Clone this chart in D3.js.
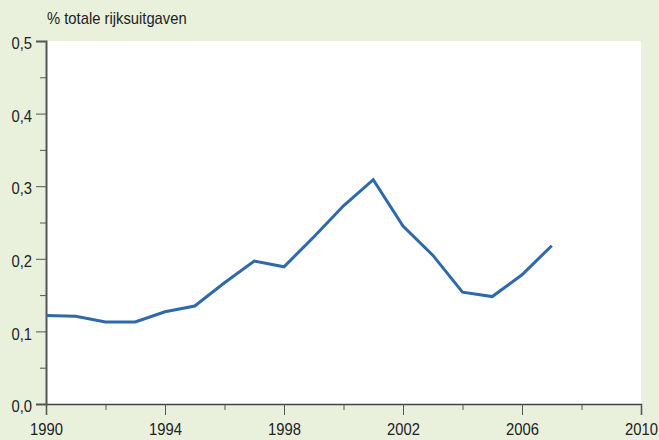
<!DOCTYPE html>
<html>
<head>
<meta charset="utf-8">
<script src="https://cdn.jsdelivr.net/npm/d3@7"></script>
<style>
  body { margin: 0; background: #e9f1dd; }
  svg { display: block; }
</style>
</head>
<body>
<div id="chart"></div>
<script>
var years = [1990, 1991, 1992, 1993, 1994, 1995, 1996, 1997, 1998, 1999,
             2000, 2001, 2002, 2003, 2004, 2005, 2006, 2007];
var shares = [0.122, 0.121, 0.113, 0.113, 0.127, 0.135, 0.167, 0.197, 0.189, 0.230,
              0.273, 0.309, 0.245, 0.205, 0.154, 0.148, 0.178, 0.218];
var yTicks = [0, 0.1, 0.2, 0.3, 0.4, 0.5];
var xTicks = [1990, 1994, 1998, 2002, 2006, 2010];
var yTitle = "% totale rijksuitgaven";

var fontFamily = "'Liberation Sans', Arial, sans-serif";
var squeeze = 0.87; // the reference uses a narrow face

var svgWidth = 659;
var svgHeight = 440;
var margin = { top: 41, right: 18, bottom: 36, left: 46 };
var width = svgWidth - margin.left - margin.right;
var height = svgHeight - margin.top - margin.bottom;

var svg = d3.select("#chart")
  .append("svg")
  .attr("width", svgWidth)
  .attr("height", svgHeight);

svg.append("rect")
  .attr("width", svgWidth)
  .attr("height", svgHeight)
  .attr("fill", "#e9f1dd");

var chartGroup = svg.append("g")
  .attr("transform", `translate(${margin.left}, ${margin.top})`);

chartGroup.append("rect")
  .attr("width", width)
  .attr("height", height)
  .attr("fill", "white");

var x = d3.scaleLinear().domain([1990, 2010]).range([0, width]);
var y = d3.scaleLinear().domain([0, 0.5]).range([height, 0]);

function narrow(sel) {
  sel.each(function() {
    var t = d3.select(this);
    var tx = +t.attr("x") || 0;
    t.attr("x", tx / squeeze)
      .attr("transform", `scale(${squeeze},1)`);
  });
}

// minor ticks
chartGroup.append("g")
  .attr("transform", `translate(0, ${height})`)
  .call(d3.axisBottom(x).tickValues(d3.range(1992, 2010, 4)).tickSize(6).tickFormat(""))
  .call(g => g.select(".domain").remove())
  .call(g => g.selectAll("line").attr("stroke", "#555"));

chartGroup.append("g")
  .call(d3.axisLeft(y).tickValues([0.05, 0.15, 0.25, 0.35, 0.45]).tickSize(6).tickFormat(""))
  .call(g => g.select(".domain").remove())
  .call(g => g.selectAll("line").attr("stroke", "#555"));

// major axes
chartGroup.append("g")
  .attr("transform", `translate(0, ${height})`)
  .call(d3.axisBottom(x).tickValues(xTicks).tickSize(11).tickPadding(8).tickFormat(d3.format("d")))
  .call(g => g.select(".domain").attr("stroke", "#444").attr("stroke-width", 1.5))
  .call(g => g.selectAll("line").attr("stroke", "#555"))
  .call(g => g.selectAll("text").attr("font-size", 17).attr("fill", "#222")
    .attr("font-family", fontFamily).call(narrow));

chartGroup.append("g")
  .call(d3.axisLeft(y).tickValues(yTicks).tickSize(10).tickPadding(4)
    .tickFormat(d => d3.format(".1f")(d).replace(".", ",")))
  .call(g => g.select(".domain").attr("stroke", "#555").attr("stroke-width", 2))
  .call(g => g.selectAll("line").attr("stroke", "#555"))
  .call(g => g.selectAll("text").attr("font-size", 17).attr("fill", "#222")
    .attr("dy", "0.45em")
    .attr("font-family", fontFamily).call(narrow));

var line = d3.line()
  .x((d, i) => x(years[i]))
  .y(d => y(d));

chartGroup.append("path")
  .datum(shares)
  .attr("fill", "none")
  .attr("stroke", "#2e69ab")
  .attr("stroke-width", 3)
  .attr("d", line);

svg.append("text")
  .attr("x", 47)
  .attr("y", 24)
  .attr("font-size", 17)
  .attr("font-family", fontFamily)
  .attr("fill", "#222")
  .text(yTitle)
  .call(narrow);
</script>
</body>
</html>
